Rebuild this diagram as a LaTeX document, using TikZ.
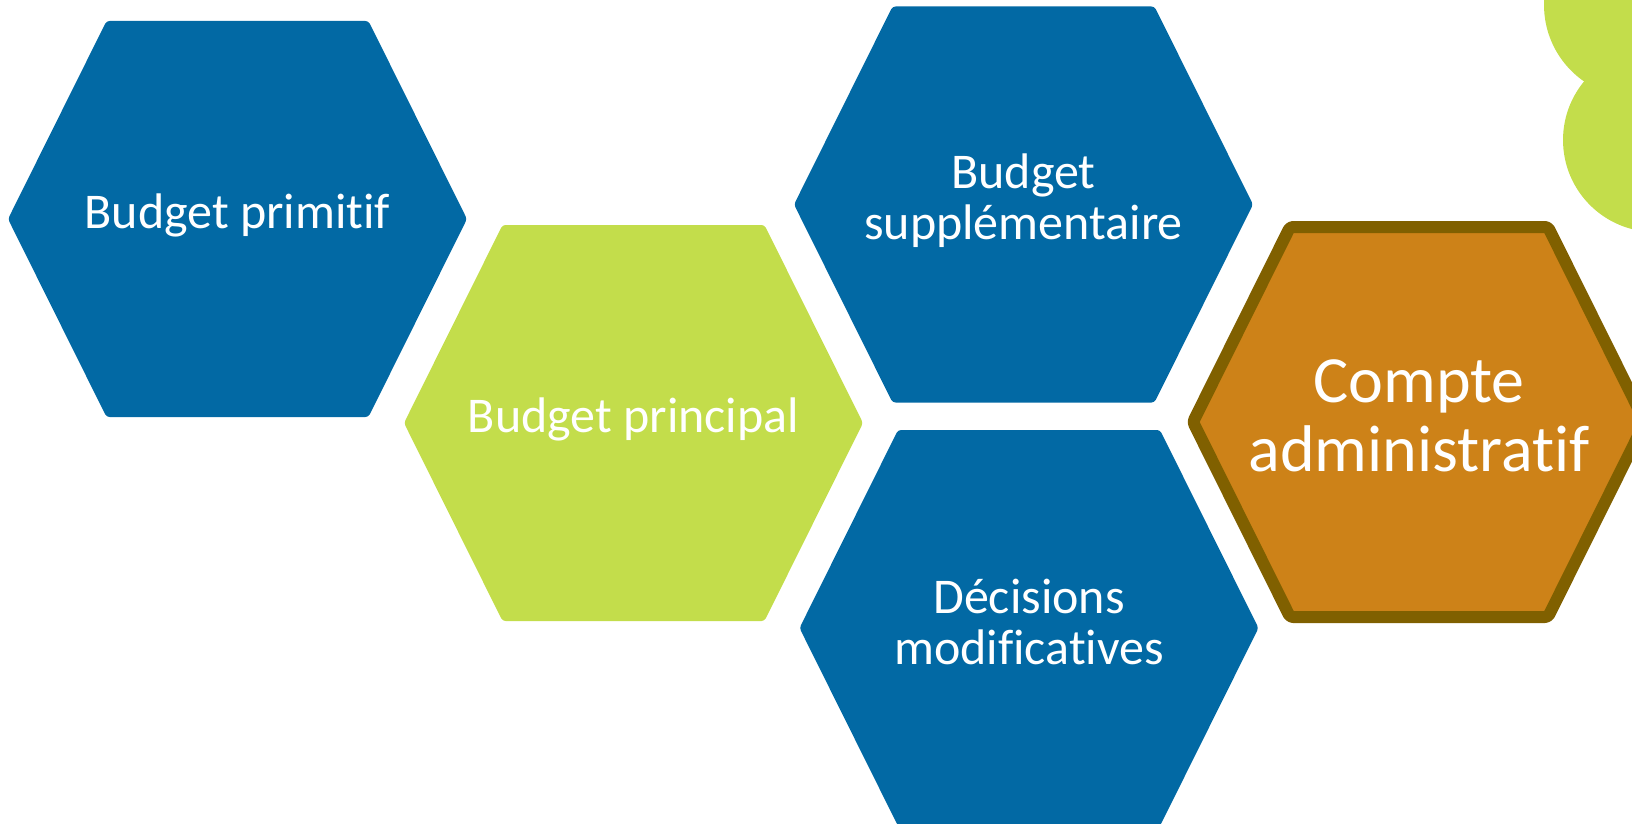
\documentclass[tikz,border=0pt]{standalone}
\usepackage{fontspec}
\setmainfont[Ligatures={NoCommon}]{Carlito}
\usetikzlibrary{positioning}
\definecolor{bleu}{RGB}{2,105,164}
\definecolor{vert}{RGB}{195,221,75}
\definecolor{ocre}{RGB}{205,130,24}
\definecolor{brun}{RGB}{128,96,0}
% hexagone : centre, demi-hauteur
\newcommand{\hexa}[2]{(#1) ++({-1.159*#2},0) -- ++({0.4975*#2},{-#2}) -- ++({1.323*#2},0) -- ++({0.4975*#2},{#2}) -- ++({-0.4975*#2},{#2}) -- ++({-1.323*#2},0) -- cycle}

\begin{document}
\begin{tikzpicture}
	[x=1pt, y=-1pt,
	hexbleu/.style={fill=bleu, rounded corners=3pt},
	hexvert/.style={fill=vert, rounded corners=3pt},
	hexocre/.style={fill=ocre, draw=brun, line width=12pt, line join=round, rounded corners=3pt},
	libelle/.style={text=white, align=center, inner sep=0pt, yshift=4pt, font=\fontsize{50}{51}\selectfont},
	grand/.style={libelle, yshift=2pt, font=\fontsize{66}{69}\selectfont}]
	
	\clip (0,0) rectangle (1632,824);
	
	\coordinate (c_primitif)  at (237.5,219);
	\coordinate (c_principal) at (633.5,423);
	\coordinate (c_supp)      at (1023.5,204.5);
	\coordinate (c_dm)        at (1029,628);
	\coordinate (c_compte)    at (1419,422);
	
	\fill[vert] (1637,5) circle (93pt);
	\fill[vert] (1655,140) circle (92pt);
	
	\fill[hexbleu] \hexa{c_primitif}{198};
	\fill[hexvert] \hexa{c_principal}{198};
	\fill[hexbleu] \hexa{c_supp}{198};
	\fill[hexbleu] \hexa{c_dm}{198};
	\filldraw[hexocre] \hexa{c_compte}{195};
	
	\node[libelle] (primitif)  at (c_primitif)  {Budget primitif};
	\node[libelle] (principal) at (c_principal) {Budget principal};
	\node[libelle] (supp)      at (c_supp)      {Budget\\suppl\'ementaire};
	\node[libelle, yshift=2pt] (dm) at (c_dm)   {D\'ecisions\\modificatives};
	\node[grand]   (compte)    at (c_compte)    {Compte\\administratif};
\end{tikzpicture}
\end{document}
